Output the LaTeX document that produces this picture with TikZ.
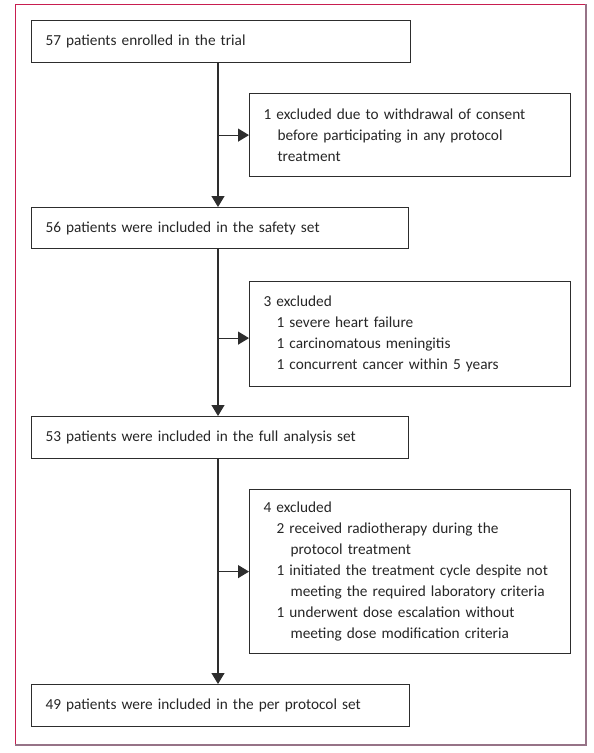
\documentclass[tikz,border=0pt]{standalone}
\usepackage{fontspec}
\setmainfont{Carlito}
\usepackage{tikz}
\usetikzlibrary{arrows.meta,calc,positioning}
\definecolor{framered}{RGB}{200,30,80}
\definecolor{framegrey}{RGB}{150,115,135}
\definecolor{boxline}{RGB}{45,45,45}
\newcommand{\ind}[1]{\hspace*{#1pt}}

\begin{document}
\begin{tikzpicture}[x=1pt,y=-1pt,
    box/.style={draw=boxline,line width=1.2pt,anchor=north west,inner xsep=14pt,
      inner ysep=0pt,align=left,text=black!85,font=\fontsize{15.3}{21}\selectfont},
    arr/.style={draw=boxline,line width=1.2pt,-{Triangle[length=11pt,width=13pt]}}]
        % Canvas and frame
        \useasboundingbox (0,0) rectangle (594,753);
        \draw[framered,line width=1pt] (15,745) -- (15,4) -- (586,4);
        \draw[framegrey,line width=1.2pt] (586,4) -- (586,745) -- (15,745);
        % Main boxes
        \node[box,minimum width=379pt,minimum height=42pt,text width=351pt] (enrol) at (31,20)
            {57 patients enrolled in the trial};
        \node[box,minimum width=377pt,minimum height=41pt,text width=349pt] (safety) at (31,207)
            {56 patients were included in the safety set};
        \node[box,minimum width=377pt,minimum height=42pt,text width=349pt] (full) at (31,416)
            {53 patients were included in the full analysis set};
        \node[box,minimum width=378pt,minimum height=42pt,text width=350pt] (perprot) at (31,684)
            {49 patients were included in the per protocol set};
        % Exclusion boxes
        \node[box,minimum width=321pt,minimum height=83pt,text width=293pt] (exclA) at (249,93)
            {1 excluded due to withdrawal of consent\\
             \ind{14}before participating in any protocol\\
             \ind{14}treatment};
        \node[box,minimum width=321pt,minimum height=105pt,text width=293pt] (exclB) at (249,281)
            {3 excluded\\
             \ind{13}1 severe heart failure\\
             \ind{13}1 carcinomatous meningitis\\
             \ind{13}1 concurrent cancer within 5 years};
        \node[box,minimum width=321pt,minimum height=164pt,text width=293pt] (exclC) at (249,489)
            {4 excluded\\
             \ind{13}2 received radiotherapy during the\\
             \ind{27}protocol treatment\\
             \ind{13}1 initiated the treatment cycle despite not\\
             \ind{27}meeting the required laboratory criteria\\
             \ind{13}1 underwent dose escalation without\\
             \ind{27}meeting dose modification criteria};
        % Flow line
        \coordinate (spine) at (218,0);
        \draw[arr] (enrol.south -| spine) -- (safety.north -| spine);
        \draw[arr] (safety.south -| spine) -- (full.north -| spine);
        \draw[arr] (full.south -| spine) -- (perprot.north -| spine);
        \draw[arr] (spine |- exclA.west) -- (exclA.west);
        \draw[arr] (spine |- exclB.west) ++(0,4) -- ($(exclB.west)+(0,4)$);
        \draw[arr] (spine |- exclC.west) -- (exclC.west);
\end{tikzpicture}
\end{document}
